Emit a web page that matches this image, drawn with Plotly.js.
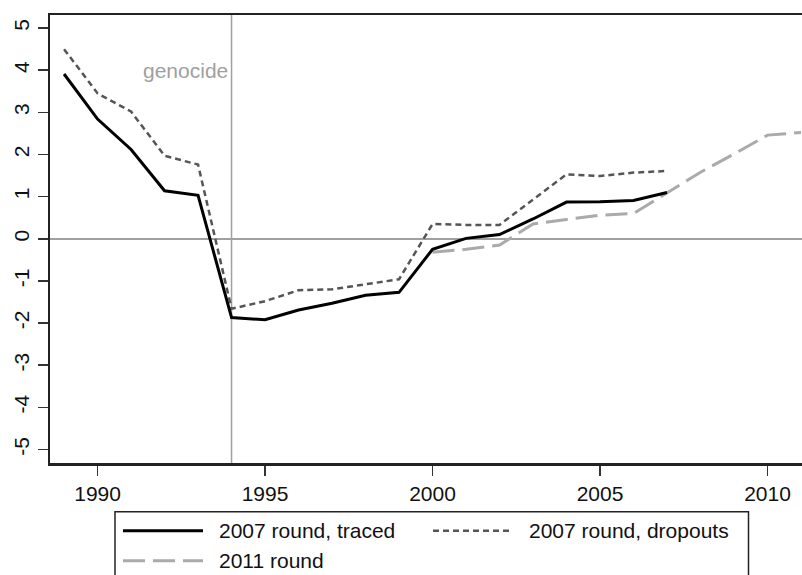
<!DOCTYPE html>
<html>
<head>
<meta charset="utf-8">
<script src="https://cdn.plot.ly/plotly-3.0.1.min.js"></script>
<style>
html,body{margin:0;padding:0;background:#fff;}
#chart{width:802px;height:575px;}
</style>
</head>
<body>
<div id="chart"></div>
<script>
// ---- data ----
var years2007 = [1989,1990,1991,1992,1993,1994,1995,1996,1997,1998,1999,2000,2001,2002,2003,2004,2005,2006,2007];
var traced    = [3.91,2.84,2.12,1.14,1.03,-1.87,-1.92,-1.69,-1.53,-1.34,-1.27,-0.25,0.01,0.10,0.47,0.87,0.88,0.91,1.10];
var dropouts  = [4.50,3.45,3.02,1.97,1.76,-1.66,-1.48,-1.22,-1.20,-1.08,-0.96,0.35,0.33,0.33,0.92,1.53,1.49,1.57,1.61];
var years2011 = [2000,2001,2002,2003,2004,2005,2006,2007,2008,2009,2010,2011];
var round2011 = [-0.32,-0.25,-0.15,0.35,0.46,0.56,0.60,1.09,1.58,2.01,2.46,2.52];
var seriesNames = ["2007 round, traced", "2007 round, dropouts", "2011 round"];
var xTicks = [1990,1995,2000,2005,2010];
var yTicks = [-5,-4,-3,-2,-1,0,1,2,3,4,5];
var eventYear = 1994;
var eventLabel = "genocide";

// ---- styles ----
var FONT = "Liberation Sans, Arial, sans-serif";
var styles = [
  {color:"#000000", width:3,   dash:"solid"},
  {color:"#555555", width:2.5, dash:"6px,4px"},
  {color:"#aaaaaa", width:3,   dash:"22px,8px"}
];

var traces = [
  {x:years2007, y:traced,   name:seriesNames[0]},
  {x:years2007, y:dropouts, name:seriesNames[1]},
  {x:years2011, y:round2011, name:seriesNames[2]}
].map(function(t,i){
  t.type="scatter"; t.mode="lines"; t.showlegend=false; t.hoverinfo="skip";
  t.line = {color:styles[i].color, width:styles[i].width, dash:styles[i].dash};
  return t;
});
// draw order: dashed grey underneath, then dotted, then black
traces = [traces[2], traces[1], traces[0]];

// legend geometry (paper coords): plot area is x 50..802, y 15..463
function px(x){ return (x-50)/752; }
function py(y){ return (463-y)/448; }

var shapes = [
  {type:"line", xref:"x", yref:"paper", x0:eventYear, x1:eventYear, y0:0, y1:1,
   line:{color:"#a0a0a0", width:1.5}, layer:"below"},
  // legend box
  {type:"rect", xref:"paper", yref:"paper", x0:px(115), x1:px(748.5), y0:py(511.7), y1:py(590),
   line:{color:"#222", width:1.5}, fillcolor:"rgba(0,0,0,0)"}
];
var legendItems = [
  {style:styles[0], lx:123, ly:530.7, text:seriesNames[0], tx:217},
  {style:styles[1], lx:433, ly:530.7, text:seriesNames[1], tx:527},
  {style:styles[2], lx:123, ly:560.7, text:seriesNames[2], tx:217}
];
var annotations = [
  {xref:"x", yref:"y", x:eventYear, y:4, text:eventLabel, showarrow:false,
   xanchor:"right", yanchor:"middle", xshift:-2,
   font:{family:FONT, size:21, color:"#a0a0a0"}}
];
legendItems.forEach(function(it){
  shapes.push({type:"line", xref:"paper", yref:"paper", x0:px(it.lx), x1:px(it.lx+80),
    y0:py(it.ly), y1:py(it.ly), line:{color:it.style.color, width:it.style.width, dash:it.style.dash}});
  annotations.push({xref:"paper", yref:"paper", x:px(it.tx), y:py(it.ly), text:it.text,
    showarrow:false, xanchor:"left", yanchor:"middle",
    font:{family:FONT, size:21, color:"#111"}});
});

var layout = {
  width:802, height:575,
  margin:{l:50, r:0, t:15, b:112, pad:0},
  paper_bgcolor:"#fff", plot_bgcolor:"#fff",
  font:{family:FONT, size:21, color:"#111"},
  xaxis:{range:[1988.58, 2011.03], tickvals:xTicks, ticktext:xTicks.map(String),
    showgrid:false, zeroline:false, showline:true, mirror:true, linecolor:"#222", linewidth:2.5,
    ticks:"outside", ticklen:10, tickwidth:1.5, tickcolor:"#333",
    tickfont:{family:FONT, size:21, color:"#111"}},
  yaxis:{range:[-5.32, 5.31], tickvals:yTicks, ticktext:yTicks.map(String),
    showgrid:false, zeroline:true, zerolinecolor:"#a0a0a0", zerolinewidth:1.5,
    showline:true, linecolor:"#222", linewidth:2.5, tickangle:-90,
    ticks:"outside", ticklen:10, tickwidth:1.5, tickcolor:"#333",
    tickfont:{family:FONT, size:21, color:"#111"}},
  shapes:shapes,
  annotations:annotations,
  showlegend:false
};

Plotly.newPlot("chart", traces, layout, {displayModeBar:false, staticPlot:true});
</script>
</body>
</html>
